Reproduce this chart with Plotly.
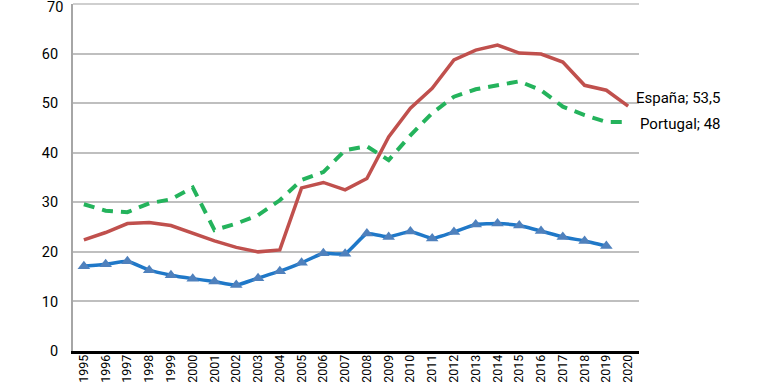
import plotly.graph_objects as go

years = list(range(1995, 2021))
espana = [22.4, 23.9, 25.7, 25.9, 25.3, 23.7, 22.2, 20.9, 20.0, 20.4, 32.9, 34.0, 32.5, 34.8,
          43.2, 49.0, 53.0, 58.7, 60.7, 61.7, 60.1, 59.9, 58.3, 53.6, 52.6, 49.4]
portugal = [29.6, 28.3, 28.0, 29.8, 30.6, 33.0, 24.4, 25.7, 27.4, 30.4, 34.5, 36.1, 40.5, 41.3,
            38.5, 43.5, 48.0, 51.3, 52.8, 53.6, 54.4, 52.6, 49.3, 47.6, 46.2, 46.2]
ue15_years = list(range(1995, 2020))
ue15 = [17.1, 17.5, 18.1, 16.3, 15.3, 14.6, 14.0, 13.3, 14.7, 16.1, 17.8, 19.7, 19.6, 23.7,
        23.0, 24.1, 22.7, 24.0, 25.5, 25.7, 25.3, 24.2, 23.0, 22.2, 21.2]
yticks = [0, 10, 20, 30, 40, 50, 60, 70]
labels = ["España; 53,5", "Portugal; 48", "UE15; 22,2"]

font = "Roboto"
fig = go.Figure()
fig.add_trace(go.Scatter(x=years, y=portugal, mode="lines",
                         line=dict(color="#24B35C", width=4, dash="11px,8px")))
fig.add_trace(go.Scatter(x=years, y=espana, mode="lines",
                         line=dict(color="#C0504D", width=3.5)))
fig.add_trace(go.Scatter(x=ue15_years, y=ue15, mode="lines+markers",
                         line=dict(color="#1F78C8", width=3.5, shape="spline", smoothing=0.4),
                         marker=dict(symbol="triangle-up", size=11, color="#4F81BD")))

fig.add_annotation(x=2020.25, y=51.0, text=labels[0], xanchor="left", yanchor="middle",
                   showarrow=False, font=dict(size=15, color="#000"))
fig.add_annotation(x=2020.45, y=45.8, text=labels[1], xanchor="left", yanchor="middle",
                   showarrow=False, font=dict(size=15, color="#000"))
fig.add_annotation(x=2020.9, y=20.4, text=labels[2], xanchor="left", yanchor="middle",
                   showarrow=False, font=dict(size=15, color="#000"))
# top tick label drawn as annotation so it is not clipped at the page edge
fig.add_annotation(xref="paper", x=0, y=yticks[-1], text=str(yticks[-1]), xanchor="right",
                   yanchor="middle", xshift=-8, yshift=-3, showarrow=False,
                   font=dict(size=14.5, color="#000"))
# top gridline
fig.add_shape(type="line", xref="paper", yref="paper", x0=0, x1=1, y0=1, y1=1,
              line=dict(color="#BFBFBF", width=1.5), layer="above")

fig.update_layout(
    width=768, height=388,
    margin=dict(l=73, r=129, t=4, b=37),
    plot_bgcolor="white", paper_bgcolor="white",
    showlegend=False,
    font=dict(family=font, color="#000"),
)
fig.update_xaxes(range=[1994.5, 2020.5], tickmode="array", tickvals=years,
                 ticktext=[str(y) for y in years], tickangle=-90,
                 tickfont=dict(size=12.5), showgrid=False,
                 showline=True, linecolor="#000", linewidth=2.5,
                 ticks="", zeroline=False, ticklabelstandoff=-4,
                 ticklabeloverflow="allow", automargin=False)
fig.update_yaxes(range=[0, 70], tickmode="array", tickvals=yticks,
                 ticktext=[str(v) for v in yticks[:-1]] + [""],
                 showgrid=True, gridcolor="#BFBFBF", gridwidth=1.5,
                 showline=True, linecolor="#A6A6A6", linewidth=2,
                 tickfont=dict(size=14.5), ticks="outside", ticklen=10, tickcolor="white",
                 zeroline=False, ticklabeloverflow="allow", automargin=False)

fig.write_html("out.html", config={"displayModeBar": False},
               post_script="document.body.style.margin='0';")
